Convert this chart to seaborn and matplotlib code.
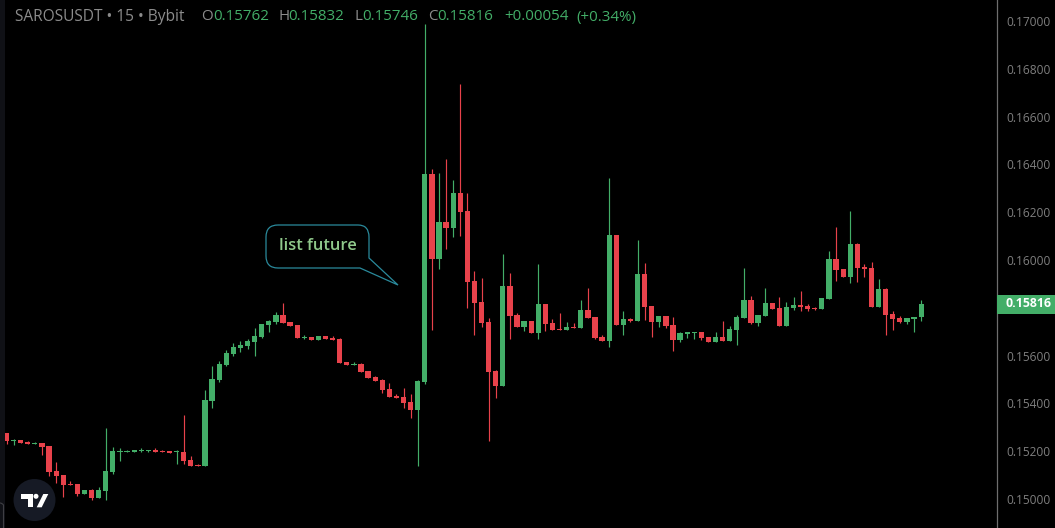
import matplotlib
matplotlib.use("Agg")
import matplotlib.pyplot as plt
import matplotlib.transforms as mtransforms
from matplotlib.patches import Circle, PathPatch, Polygon, Rectangle
from matplotlib.path import Path
import pandas as pd
import seaborn as sns

# prices in 1e-5 USDT
opens = [15276, 15243, 15247, 15238, 15230, 15234, 15222, 15117, 15100, 15063,
         15063, 15021, 15038, 15004, 15033, 15113, 15197, 15197, 15197, 15201,
         15201, 15205, 15201, 15201, 15197, 15197, 15163, 15142, 15138, 15410,
         15498, 15561, 15607, 15632, 15640, 15657, 15678, 15728, 15741, 15770,
         15741, 15728, 15674, 15678, 15665, 15682, 15674, 15669, 15573, 15561,
         15565, 15536, 15510, 15498, 15460, 15431, 15427, 15406, 15372, 15490,
         16360, 16004, 16159, 16134, 16280, 16205, 15912, 15824, 15741, 15536,
         15473, 15891, 15770, 15720, 15745, 15695, 15816, 15736, 15711, 15707,
         15720, 15715, 15791, 15761, 15678, 15661, 16105, 15728, 15753, 15745,
         15941, 15808, 15741, 15766, 15728, 15665, 15690, 15695, 15699, 15678,
         15657, 15678, 15661, 15707, 15757, 15833, 15736, 15766, 15820, 15799,
         15724, 15799, 15812, 15808, 15799, 15795, 15837, 16004, 15962, 15929,
         16067, 15971, 15967, 15803, 15879, 15774, 15757, 15741, 15753, 15762]
highs = [15276, 15251, 15247, 15243, 15238, 15234, 15222, 15155, 15100, 15075,
         15063, 15038, 15042, 15050, 15297, 15218, 15213, 15205, 15205, 15213,
         15205, 15213, 15205, 15201, 15205, 15351, 15180, 15146, 15456, 15556,
         15577, 15623, 15653, 15661, 15669, 15715, 15732, 15749, 15782, 15820,
         15741, 15728, 15686, 15678, 15682, 15682, 15682, 15674, 15573, 15573,
         15569, 15536, 15515, 15502, 15485, 15439, 15464, 15439, 15498, 16987,
         16381, 16364, 16423, 16335, 16736, 16280, 15954, 15925, 15757, 15540,
         16025, 15946, 15778, 15745, 15745, 15983, 15816, 15753, 15778, 15741,
         15736, 15833, 15883, 15761, 15686, 16343, 16105, 15787, 15757, 16084,
         15987, 15808, 15766, 15766, 15761, 15699, 15699, 15699, 15699, 15678,
         15699, 15745, 15724, 15770, 15967, 15849, 15770, 15883, 15820, 15845,
         15824, 15845, 15870, 15816, 15803, 15841, 16038, 16138, 15962, 16205,
         16071, 15983, 15992, 15920, 15883, 15787, 15766, 15757, 15761, 15832]
lows = [15230, 15226, 15234, 15230, 15230, 15184, 15096, 15067, 15008, 15059,
        15013, 15021, 14996, 15004, 14996, 15105, 15159, 15197, 15197, 15197,
        15197, 15197, 15197, 15192, 15146, 15146, 15138, 15138, 15138, 15381,
        15490, 15556, 15598, 15615, 15628, 15598, 15674, 15699, 15732, 15736,
        15724, 15674, 15669, 15665, 15665, 15669, 15665, 15569, 15561, 15561,
        15531, 15506, 15494, 15444, 15427, 15423, 15381, 15339, 15138, 15481,
        15707, 15962, 16046, 16096, 16100, 15799, 15686, 15720, 15243, 15423,
        15473, 15669, 15720, 15703, 15695, 15669, 15703, 15707, 15707, 15707,
        15715, 15715, 15757, 15669, 15661, 15636, 15728, 15686, 15741, 15745,
        15749, 15678, 15720, 15715, 15619, 15657, 15674, 15669, 15665, 15657,
        15657, 15661, 15661, 15644, 15757, 15732, 15724, 15766, 15795, 15724,
        15724, 15791, 15787, 15787, 15791, 15795, 15837, 15912, 15929, 15904,
        15908, 15929, 15803, 15803, 15686, 15707, 15736, 15732, 15699, 15746]
closes = [15243, 15247, 15234, 15230, 15234, 15218, 15113, 15096, 15059, 15059,
          15021, 15038, 15004, 15038, 15117, 15201, 15201, 15201, 15205, 15205,
          15205, 15197, 15197, 15192, 15201, 15159, 15138, 15138, 15414, 15502,
          15565, 15611, 15636, 15644, 15661, 15682, 15732, 15745, 15770, 15736,
          15724, 15674, 15678, 15665, 15682, 15669, 15665, 15569, 15561, 15565,
          15531, 15506, 15494, 15456, 15427, 15423, 15402, 15372, 15494, 16360,
          16004, 16159, 16134, 16280, 16201, 15908, 15820, 15736, 15531, 15473,
          15891, 15766, 15720, 15745, 15695, 15816, 15732, 15707, 15707, 15720,
          15715, 15791, 15757, 15674, 15661, 16105, 15728, 15753, 15745, 15941,
          15803, 15741, 15766, 15724, 15665, 15695, 15699, 15699, 15674, 15657,
          15678, 15661, 15711, 15761, 15833, 15736, 15770, 15820, 15795, 15724,
          15803, 15812, 15803, 15795, 15795, 15841, 16004, 15958, 15929, 16067,
          15967, 15962, 15803, 15879, 15770, 15753, 15741, 15757, 15761, 15816]
price_ticks = [0.150, 0.152, 0.154, 0.156, 0.160, 0.162, 0.164, 0.166, 0.168, 0.170]
last_price = 0.15816

GREEN = "#43AE68"
RED = "#E8424B"
GREY = "#7F7F7F"
W, H = 1055, 528

sns.set_theme(style="dark", rc={"figure.facecolor": "black", "axes.facecolor": "black"})
plt.rcParams["font.family"] = ["Open Sans", "DejaVu Sans"]

candles = pd.DataFrame({"o": opens, "h": highs, "l": lows, "c": closes}) / 1e5
candles["i"] = range(len(candles))
candles["up"] = candles.c >= candles.o
candles["bottom"] = candles[["o", "c"]].min(axis=1)
candles["body"] = (candles.c - candles.o).abs()

fig = plt.figure(figsize=(W / 100, H / 100), dpi=100)
ax = fig.add_axes([0, 0, 997 / W, 1])

ax.vlines(candles.i, candles.l, candles.h, lw=0.85,
          colors=[GREEN if u else RED for u in candles.up], zorder=2)
for up, color in [(True, GREEN), (False, RED)]:
    part = candles[candles.up == up]
    sns.barplot(data=part, x="i", y="body", bottom=part.bottom, native_scale=True,
                color=color, saturation=1, width=0.74, errorbar=None, linewidth=0,
                zorder=3, ax=ax)

ax.set_xlim(-0.917, 139.7)
ax.set_ylim(0.148787, 0.170878)
ax.set_xlabel("")
ax.set_ylabel("")
ax.set_xticks([])
ax.grid(False)
ax.yaxis.tick_right()
ax.set_yticks(price_ticks)
ax.set_yticklabels([f"{t:.5f}" for t in price_ticks], color=GREY, fontsize=8.6)
ax.tick_params(axis="y", length=0, pad=7)
for name, spine in ax.spines.items():
    spine.set_visible(name == "right")
ax.spines["right"].set_color("#6E6E6E")
ax.spines["right"].set_linewidth(0.9)

# price tag on the axis
tag_tr = mtransforms.blended_transform_factory(ax.transAxes, ax.transData)
ax.add_patch(Rectangle((1, last_price - 0.00040), 58 / 997, 0.00078, transform=tag_tr,
                       facecolor=GREEN, edgecolor="none", clip_on=False, zorder=5))
ax.text(1 + 55 / 997, last_price, f"{last_price:.5f}", transform=tag_tr, color="white",
        fontsize=8.9, fontweight="bold", ha="right", va="center", zorder=6)

# overlay stuff is placed in screenshot pixels, y down
px = mtransforms.Affine2D().scale(1, -1).translate(0, H)

fig.add_artist(Rectangle((0, 0), 4.7, H, transform=px, facecolor="#101116", edgecolor="none"))
fig.add_artist(PathPatch(Path([(0, 503), (2, 503), (3.5, 505), (3.5, 528)],
                              [Path.MOVETO, Path.CURVE3, Path.CURVE3, Path.LINETO]),
                         transform=px, facecolor="none", edgecolor="#3F3F44", lw=0.8))

# callout
verts = [(278, 225), (358, 225), (369, 225), (369, 237), (369, 258), (398, 285),
         (360, 268), (278, 268), (266, 268), (266, 256), (266, 237), (266, 225), (278, 225)]
codes = [Path.MOVETO, Path.LINETO, Path.CURVE3, Path.CURVE3, Path.LINETO, Path.LINETO,
         Path.LINETO, Path.LINETO, Path.CURVE3, Path.CURVE3, Path.LINETO, Path.CURVE3, Path.CURVE3]
fig.add_artist(PathPatch(Path(verts, codes), transform=px, facecolor="black",
                         edgecolor="#2A8A9C", lw=0.9))
fig.text(318 / W, 1 - 246 / H, "list future", color="#90C98B", fontsize=11.9,
         fontweight="semibold", ha="center", va="center")

# header line
fig.text(15 / W, 1 - 17 / H, "SAROSUSDT • 15 • Bybit", color="#8C8C8C", fontsize=11.2, va="center")
header = [(201, "O", "#8C8C8C"), (213.5, "0.15762", GREEN), (278, "H", "#8C8C8C"),
          (288.5, "0.15832", GREEN), (355, "L", "#8C8C8C"), (362.5, "0.15746", GREEN),
          (428, "C", "#8C8C8C"), (437.5, "0.15816", GREEN), (504, "+0.00054", GREEN),
          (576, "(+0.34%)", GREEN)]
for x, s, color in header:
    fig.text(x / W, 1 - 17 / H, s, color=color, fontsize=10.9, va="center")

# logo badge
fig.add_artist(Circle((34.5, 500), 21, transform=px, facecolor="#161A25", edgecolor="none"))
for poly in [[(21, 494), (33.3, 494), (33.3, 507.3), (27.7, 507.3), (27.7, 499.3), (21, 499.3)],
             [(43.3, 494), (48.3, 494), (41.7, 507.3), (36.7, 507.3)]]:
    fig.add_artist(Polygon(poly, transform=px, facecolor="white", edgecolor="none"))
fig.add_artist(Circle((36, 496.3), 2.5, transform=px, facecolor="white", edgecolor="none"))

fig.savefig("out.png", dpi=100, facecolor="black")
